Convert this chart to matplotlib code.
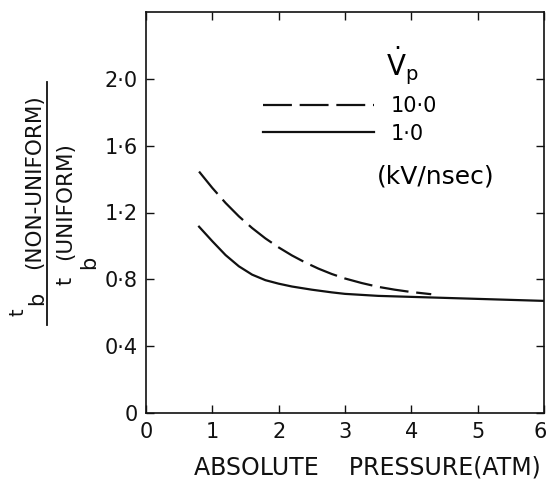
import numpy as np
import matplotlib
matplotlib.use('Agg')
import matplotlib.pyplot as plt
import matplotlib.transforms as mtransforms
from matplotlib.lines import Line2D

# --- data ---
X_TICKS = [0, 1, 2, 3, 4, 5, 6]
X_TICK_LABELS = ['0', '1', '2', '3', '4', '5', '6']
Y_TICKS = [0.0, 0.4, 0.8, 1.2, 1.6, 2.0]
Y_TICK_LABELS = ['0', '0·4', '0·8', '1·2', '1·6', '2·0']

# Vp = 10.0 kV/nsec (dashed)
p_fast = [0.8, 1.0, 1.2, 1.4, 1.6, 1.8, 2.0, 2.2, 2.4, 2.6, 2.8, 3.0, 3.25, 3.5, 3.75, 4.0, 4.3]
r_fast = [1.445, 1.347, 1.257, 1.177, 1.107, 1.045, 0.991, 0.943, 0.901, 0.864, 0.832,
          0.805, 0.778, 0.755, 0.738, 0.724, 0.711]

# Vp = 1.0 kV/nsec (solid)
p_slow = [0.8, 1.0, 1.2, 1.4, 1.6, 1.8, 2.0, 2.2, 2.5, 2.8, 3.0, 3.5, 4.0, 4.5, 5.0, 5.5, 6.0]
r_slow = [1.115, 1.028, 0.945, 0.878, 0.828, 0.795, 0.774, 0.757, 0.738, 0.722, 0.713,
          0.701, 0.695, 0.689, 0.683, 0.677, 0.671]

LEGEND_VALUES = ['10·0', '1·0']

W, H = 548, 479
fig = plt.figure(figsize=(W / 100, H / 100), dpi=100)
ax = fig.add_axes([146 / W, 1 - 413 / H, 398 / W, 401 / H])

INK = '#111111'
DASH = (0, (13, 3.5))
ax.plot(p_fast, r_fast, color=INK, lw=1.6, linestyle=DASH, dash_joinstyle='round')
ax.plot(p_slow, r_slow, color=INK, lw=1.6, solid_joinstyle='round')

ax.set_xlim(0, 6)
ax.set_ylim(0, 2.4)
ax.set_xticks(X_TICKS)
ax.set_xticklabels(X_TICK_LABELS)
ax.set_yticks(Y_TICKS)
ax.set_yticklabels(Y_TICK_LABELS)
ax.tick_params(direction='in', top=True, right=True, length=6, width=1,
               labelsize=15, colors=INK)
ax.tick_params(axis='x', pad=6.5)
ax.tick_params(axis='y', pad=6)
for s in ax.spines.values():
    s.set_linewidth(1.2)
    s.set_color(INK)

# keep the last x label inside the picture
last = ax.get_xticklabels()[-1]
last.set_transform(last.get_transform() +
                   mtransforms.ScaledTranslation(-3 / 72, 0, fig.dpi_scale_trans))

# legend, drawn by hand like the original
ax.plot([0.294, 0.573], [0.768, 0.768], transform=ax.transAxes,
        color=INK, lw=1.6, linestyle=DASH)
ax.plot([0.294, 0.573], [0.701, 0.701], transform=ax.transAxes,
        color=INK, lw=1.6)
ax.text(0.614, 0.766, LEGEND_VALUES[0], transform=ax.transAxes,
        ha='left', va='center', fontsize=15)
ax.text(0.614, 0.695, LEGEND_VALUES[1], transform=ax.transAxes,
        ha='left', va='center', fontsize=15)
ax.text(0.581, 0.591, '(kV/nsec)', transform=ax.transAxes,
        ha='left', va='center', fontsize=18)
ax.text(0.603, 0.865, r'$\dot{\mathrm{V}}_{\mathrm{p}}$', transform=ax.transAxes,
        ha='left', va='center', fontsize=20)

# x label
fig.text(367 / W, 1 - 467 / H, 'ABSOLUTE    PRESSURE(ATM)', ha='center', va='center',
         fontsize=17, color=INK)

# y label as a fraction
def ftext(px, py, s, size):
    fig.text(px / W, 1 - py / H, s, rotation=90, ha='center', va='center',
             fontsize=size, color=INK)

ftext(18, 312, 't', 14)
ftext(37, 298, 'b', 15)
ftext(34, 182, '(NON-UNIFORM)', 15.5)
fig.add_artist(Line2D([47 / W, 47 / W], [1 - 82 / H, 1 - 325 / H],
                      transform=fig.transFigure, color=INK, lw=1.3))
ftext(66, 281, 't', 15)
ftext(89, 262, 'b', 15)
ftext(65, 201, '(UNIFORM)', 15.5)

fig.savefig('out.png', dpi=100, facecolor='white')
